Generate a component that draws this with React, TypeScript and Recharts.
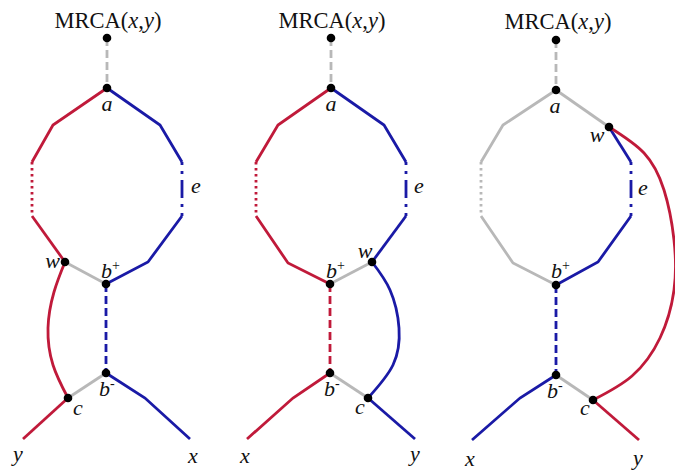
import React from 'react';
import { ComposedChart, Line, Scatter, XAxis, YAxis } from 'recharts';

// three panels of the MRCA / b+ b- diagram, coordinates

type P = [number, number];
type Edge = { kind: string; pts: P[] };
type Lab = { text: string; sup?: string; x: number; y: number; anchor?: string };

const panel1Edges: Edge[] = [
  { kind: 'grayDash', pts: [[107, 38], [107, 88]] },
  { kind: 'gray', pts: [[65, 262], [106, 284]] },
  { kind: 'gray', pts: [[68, 398], [106, 373]] },
  { kind: 'red', pts: [[107, 88], [53, 125], [32, 162]] },
  { kind: 'redDot', pts: [[32, 162], [32, 216]] },
  { kind: 'red', pts: [[32, 216], [65, 262]] },
  { kind: 'redArc', pts: [[65, 262], [54, 292], [48, 328], [53, 365], [68, 398]] },
  { kind: 'red', pts: [[68, 398], [23, 439]] },
  { kind: 'blue', pts: [[107, 88], [160, 125], [182, 162]] },
  { kind: 'blueDashDot', pts: [[182, 162], [182, 216]] },
  { kind: 'blue', pts: [[182, 216], [148, 262], [106, 284]] },
  { kind: 'blueDash', pts: [[106, 284], [106, 373]] },
  { kind: 'blue', pts: [[106, 373], [145, 398], [190, 439]] },
];

const panel2Edges: Edge[] = [
  { kind: 'grayDash', pts: [[331, 38], [331, 88]] },
  { kind: 'gray', pts: [[372, 262], [330, 284]] },
  { kind: 'gray', pts: [[330, 373], [368, 398]] },
  { kind: 'red', pts: [[331, 88], [278, 125], [256, 162]] },
  { kind: 'redDot', pts: [[256, 162], [256, 216]] },
  { kind: 'red', pts: [[256, 216], [288, 263], [330, 284]] },
  { kind: 'redDash', pts: [[330, 284], [330, 373]] },
  { kind: 'red', pts: [[330, 373], [293, 398], [247, 439]] },
  { kind: 'blue', pts: [[331, 88], [384, 125], [406, 162]] },
  { kind: 'blueDashDot', pts: [[406, 162], [406, 216]] },
  { kind: 'blue', pts: [[406, 216], [372, 262]] },
  { kind: 'blueArc', pts: [[372, 262], [390, 290], [399, 328], [393, 365], [368, 398]] },
  { kind: 'blue', pts: [[368, 398], [415, 439]] },
];

const panel3Edges: Edge[] = [
  { kind: 'grayDash', pts: [[556, 40], [556, 90]] },
  { kind: 'gray', pts: [[556, 90], [503, 125], [481, 162]] },
  { kind: 'grayDot', pts: [[481, 162], [481, 216]] },
  { kind: 'gray', pts: [[481, 216], [513, 263], [556, 285]] },
  { kind: 'gray', pts: [[556, 90], [609, 127]] },
  { kind: 'gray', pts: [[556, 375], [593, 400]] },
  { kind: 'blue', pts: [[609, 127], [631, 162]] },
  { kind: 'blueDashDot', pts: [[631, 162], [631, 216]] },
  { kind: 'blue', pts: [[631, 216], [598, 262], [556, 285]] },
  { kind: 'blueDash', pts: [[556, 285], [556, 375]] },
  { kind: 'blue', pts: [[556, 375], [520, 398], [472, 440]] },
  {
    kind: 'redArc',
    pts: [[609, 127], [644, 153], [664, 190], [674, 240], [674, 290], [660, 338], [632, 376], [593, 400]],
  },
  { kind: 'red', pts: [[593, 400], [639, 440]] },
];

const panel1Nodes: P[] = [[107, 38], [107, 88], [65, 262], [106, 284], [106, 373], [68, 398]];
const panel2Nodes: P[] = [[331, 38], [331, 88], [372, 262], [330, 284], [330, 373], [368, 398]];
const panel3Nodes: P[] = [[556, 40], [556, 90], [609, 127], [556, 285], [556, 375], [593, 400]];

const panel1Labels: Lab[] = [
  { text: 'a', x: 107, y: 111, anchor: 'middle' },
  { text: 'e', x: 191, y: 193 },
  { text: 'w', x: 60, y: 268, anchor: 'end' },
  { text: 'b', sup: '+', x: 101, y: 278 },
  { text: 'b', sup: '-', x: 99, y: 396 },
  { text: 'c', x: 73, y: 415 },
  { text: 'y', x: 13, y: 461 },
  { text: 'x', x: 188, y: 463 },
];

const panel2Labels: Lab[] = [
  { text: 'a', x: 331, y: 111, anchor: 'middle' },
  { text: 'e', x: 414, y: 193 },
  { text: 'w', x: 365, y: 258, anchor: 'middle' },
  { text: 'b', sup: '+', x: 326, y: 278 },
  { text: 'b', sup: '-', x: 324, y: 396 },
  { text: 'c', x: 355, y: 414 },
  { text: 'x', x: 240, y: 463 },
  { text: 'y', x: 410, y: 461 },
];

const panel3Labels: Lab[] = [
  { text: 'a', x: 555, y: 113, anchor: 'middle' },
  { text: 'w', x: 597, y: 142, anchor: 'middle' },
  { text: 'e', x: 638, y: 195 },
  { text: 'b', sup: '+', x: 551, y: 278 },
  { text: 'b', sup: '-', x: 547, y: 398 },
  { text: 'c', x: 580, y: 415 },
  { text: 'x', x: 465, y: 466 },
  { text: 'y', x: 633, y: 465 },
];

const mrcaLabels = [
  { x: 108, y: 28 },
  { x: 332, y: 28 },
  { x: 558, y: 29 },
];

const RED = '#c01a3a';
const BLUE = '#1a1aa6';
const GRAY = '#b8b8b8';
const SERIF = '"Liberation Serif", "DejaVu Serif", serif';

const STYLES: Record<string, { stroke: string; dash?: string; curve?: boolean }> = {
  gray: { stroke: GRAY },
  grayDash: { stroke: GRAY, dash: '8 4' },
  grayDot: { stroke: GRAY, dash: '2.5 3.5' },
  red: { stroke: RED },
  redDot: { stroke: RED, dash: '2.5 3.5' },
  redDash: { stroke: RED, dash: '8 4' },
  redArc: { stroke: RED, curve: true },
  blue: { stroke: BLUE },
  blueDash: { stroke: BLUE, dash: '8 4' },
  blueDashDot: { stroke: BLUE, dash: '3 6 3 6 18 6 3 6 3' },
  blueArc: { stroke: BLUE, curve: true },
};

const allEdges = [...panel1Edges, ...panel2Edges, ...panel3Edges];
const allNodes = [...panel1Nodes, ...panel2Nodes, ...panel3Nodes].map(([x, y]) => ({ x, y }));
const allLabels = [...panel1Labels, ...panel2Labels, ...panel3Labels];

const NodeDot = (props: any) => <circle cx={props.cx} cy={props.cy} r={4.3} fill="#000" />;

const NodeLabel = (props: any) => {
  const p = props.payload;
  return (
    <text
      x={props.cx}
      y={props.cy}
      textAnchor={p.anchor || 'start'}
      fontFamily={SERIF}
      fontStyle="italic"
      fontSize={22}
      fill="#111"
    >
      {p.text}
      {p.sup && (
        <tspan dy={-8} fontSize={14} fontStyle="normal">
          {p.sup}
        </tspan>
      )}
    </text>
  );
};

const MrcaLabel = (props: any) => (
  <text x={props.cx} y={props.cy} textAnchor="middle" fontFamily={SERIF} fontSize={22.5} fill="#111">
    MRCA(<tspan fontStyle="italic">x</tspan>,<tspan fontStyle="italic">y</tspan>)
  </text>
);

export default function App() {
  return (
    <div style={{ position: 'absolute', left: 0, top: 0, width: 675, height: 472, background: '#fff' }}>
      <ComposedChart width={675} height={472} margin={{ top: 0, right: 0, bottom: 0, left: 0 }}>
        <XAxis dataKey="x" type="number" domain={[0, 675]} hide allowDataOverflow />
        <YAxis dataKey="y" type="number" domain={[0, 472]} reversed hide allowDataOverflow />
        {allEdges.map((e, i) => {
          const s = STYLES[e.kind];
          return (
            <Line
              key={`edge-${i}`}
              data={e.pts.map(([x, y]) => ({ x, y }))}
              dataKey="y"
              type={s.curve ? 'natural' : 'linear'}
              stroke={s.stroke}
              strokeWidth={2.8}
              strokeDasharray={s.dash}
              strokeLinecap="butt"
              dot={false}
              activeDot={false}
              legendType="none"
              isAnimationActive={false}
            />
          );
        })}
        <Scatter data={allNodes} shape={NodeDot} isAnimationActive={false} legendType="none" />
        <Scatter data={allLabels} shape={NodeLabel} isAnimationActive={false} legendType="none" />
        <Scatter data={mrcaLabels} shape={MrcaLabel} isAnimationActive={false} legendType="none" />
      </ComposedChart>
    </div>
  );
}
